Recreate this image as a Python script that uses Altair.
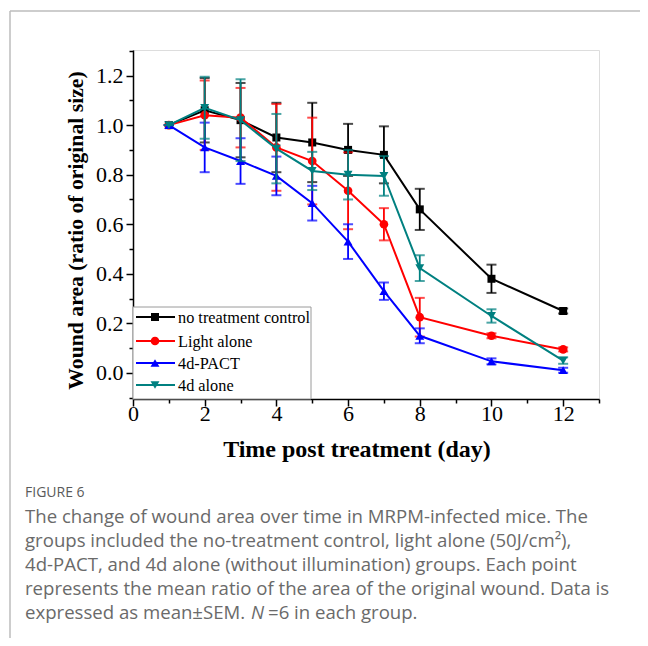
import altair as alt
import pandas as pd

# ---------------- data ----------------
days = [1, 2, 3, 4, 5, 6, 7, 8, 10, 12]
series_names = ["no treatment control", "Light alone", "4d-PACT", "4d alone"]
series_colors = ["#000000", "#ff0000", "#0000ff", "#008080"]
series_shapes = ["square", "circle", "triangle-up", "triangle-down"]
series_sizes = [64, 75, 80, 80]

control_mean = [1.00, 1.06, 1.02, 0.95, 0.93, 0.90, 0.88, 0.66, 0.38, 0.25]
control_err = [0.00, 0.13, 0.15, 0.14, 0.16, 0.105, 0.115, 0.083, 0.057, 0.010]
light_mean = [1.00, 1.04, 1.03, 0.91, 0.855, 0.735, 0.60, 0.225, 0.15, 0.095]
light_err = [0.00, 0.14, 0.12, 0.175, 0.175, 0.155, 0.065, 0.078, 0.010, 0.008]
pact_mean = [1.00, 0.91, 0.855, 0.795, 0.685, 0.53, 0.33, 0.15, 0.047, 0.011]
pact_err = [0.00, 0.10, 0.092, 0.078, 0.07, 0.07, 0.035, 0.03, 0.012, 0.010]
alone_mean = [1.00, 1.07, 1.02, 0.905, 0.815, 0.80, 0.795, 0.423, 0.23, 0.05]
alone_err = [0.00, 0.125, 0.165, 0.14, 0.077, 0.10, 0.08, 0.052, 0.027, 0.013]

all_means = [control_mean, light_mean, pact_mean, alone_mean]
all_errs = [control_err, light_err, pact_err, alone_err]

x_tick_values = [0, 1, 2, 3, 4, 5, 6, 7, 8, 9, 10, 11, 12, 13]
y_tick_values = [-0.1, 0.0, 0.1, 0.2, 0.3, 0.4, 0.5, 0.6, 0.7, 0.8, 0.9, 1.0, 1.1, 1.2, 1.3]

x_title = "Time post treatment (day)"
y_title = "Wound area (ratio of original size)"

caption_head = "FIGURE 6"
caption_lines = [
    "The change of wound area over time in MRPM-infected mice. The",
    "groups included the no-treatment control, light alone (50J/cm²),",
    "4d-PACT, and 4d alone (without illumination) groups. Each point",
    "represents the mean ratio of the area of the original wound. Data is",
]
caption_last = ["expressed as mean±SEM. ", "N", " =6 in each group."]

# ---------------- layout ----------------
W, H = 466, 349
SERIF = "Liberation Serif"
SANS = "Open Sans"
CAP_SIZE = 18.6

xscale = alt.Scale(domain=[0, 13], nice=False, zero=False)
yscale = alt.Scale(domain=[-0.105, 1.303], nice=False, zero=False)

x_axis = alt.Axis(
    orient="bottom",
    values=x_tick_values,
    labelExpr="datum.value % 2 == 0 ? datum.label : ''",
    tickSize={"condition": {"test": "datum.value % 2 == 1", "value": 4}, "value": 7},
    tickColor="black", tickWidth=1.5, domainColor="black", domainWidth=1.5,
    grid=False, labelFont=SERIF, labelFontSize=22, labelColor="black",
    labelPadding=-3, labelBaseline="top", labelFlush=False, labelOverlap=False,
    title=x_title, titleFont=SERIF, titleFontSize=24, titleFontWeight="bold",
    titleColor="black", titleX=223.5, titleY=50, titleBaseline="middle",
    titleAnchor="middle", titleAlign="center",
)
y_axis = alt.Axis(
    orient="left",
    values=y_tick_values,
    labelExpr="abs(round(datum.value*10)) % 2 == 0 ? format(datum.value, '.1f') : ''",
    tickSize={"condition": {"test": "abs(round(datum.value*10)) % 2 == 1", "value": 4}, "value": 7},
    tickColor="black", tickWidth=1.5, domainColor="black", domainWidth=1.5,
    grid=False, labelFont=SERIF, labelFontSize=22, labelColor="black",
    labelPadding=3, labelFlush=False, labelOverlap=False,
    title=y_title, titleFont=SERIF, titleFontSize=21.7, titleFontWeight="bold",
    titleColor="black", titleX=-58, titleY=180, titleBaseline="middle",
    titleAngle=270, titleAnchor="middle", titleAlign="center",
)

layers = []
for name, color, shape, size, mean, err in zip(series_names, series_colors, series_shapes,
                                                series_sizes, all_means, all_errs):
    df = pd.DataFrame({
        "day": days,
        "mean": mean,
        "lo": [m - e for m, e in zip(mean, err)],
        "hi": [m + e for m, e in zip(mean, err)],
    })
    base = alt.Chart(df)
    X = alt.X("day:Q", scale=xscale, axis=x_axis)
    stems = base.mark_rule(color=color, strokeWidth=1.8).encode(
        x=X, y=alt.Y("lo:Q", scale=yscale, axis=y_axis), y2="hi:Q")
    cap_lo = base.mark_tick(color=color, orient="horizontal", size=10, thickness=2).encode(
        x=X, y=alt.Y("lo:Q", scale=yscale, axis=y_axis))
    cap_hi = base.mark_tick(color=color, orient="horizontal", size=10, thickness=2).encode(
        x=X, y=alt.Y("hi:Q", scale=yscale, axis=y_axis))
    line = base.mark_line(color=color, strokeWidth=2).encode(
        x=X, y=alt.Y("mean:Q", scale=yscale, axis=y_axis))
    pts = base.mark_point(color=color, filled=True, opacity=1, shape=shape, size=size).encode(
        x=X, y=alt.Y("mean:Q", scale=yscale, axis=y_axis))
    layers += [stems, cap_lo, cap_hi, line, pts]

# ---------------- legend (drawn box) ----------------
legend_box = alt.Chart(pd.DataFrame({"k": [0]})).mark_rect(
    fill="white", stroke="#9a9a9a", strokeWidth=1).encode(
    x=alt.value(0), x2=alt.value(178), y=alt.value(257), y2=alt.value(349))
layers.append(legend_box)
legend_rows = [267, 291, 313, 335]
for name, color, shape, size, ly in zip(series_names, series_colors, series_shapes,
                                        series_sizes, legend_rows):
    ldf = pd.DataFrame({"name": [name]})
    lb = alt.Chart(ldf)
    layers.append(lb.mark_rule(color=color, strokeWidth=2).encode(
        x=alt.value(3), x2=alt.value(42), y=alt.value(ly)))
    layers.append(lb.mark_point(color=color, filled=True, opacity=1, shape=shape, size=size).encode(
        x=alt.value(22), y=alt.value(ly)))
    layers.append(lb.mark_text(align="left", baseline="middle", font=SERIF, fontSize=16.3,
                               color="black").encode(
        x=alt.value(45), y=alt.value(ly + 1), text="name:N"))

# ---------------- page frame and caption ----------------
frame = alt.Chart(pd.DataFrame({"k": [0]}))
layers.append(frame.mark_rule(color="#bdbdbd", strokeWidth=1.5).encode(
    x=alt.value(-123), x2=alt.value(520), y=alt.value(-39)))
layers.append(frame.mark_rule(color="#bdbdbd", strokeWidth=1.5).encode(
    x=alt.value(-123), y=alt.value(-39), y2=alt.value(600)))

layers.append(alt.Chart(pd.DataFrame({"t": [caption_head]})).mark_text(
    align="left", baseline="middle", font=SANS, fontSize=14, color="#5a5a5a").encode(
    x=alt.value(-108), y=alt.value(443), text="t:N"))
for i, line_text in enumerate(caption_lines):
    layers.append(alt.Chart(pd.DataFrame({"t": [line_text]})).mark_text(
        align="left", baseline="middle", font=SANS, fontSize=CAP_SIZE, color="#6a6a6a").encode(
        x=alt.value(-108), y=alt.value(467 + 24 * i), text="t:N"))
last_x = [-108, 118, 135]
last_style = ["normal", "italic", "normal"]
for seg, sx, st in zip(caption_last, last_x, last_style):
    layers.append(alt.Chart(pd.DataFrame({"t": [seg]})).mark_text(
        align="left", baseline="middle", font=SANS, fontSize=CAP_SIZE, color="#6a6a6a",
        fontStyle=st).encode(
        x=alt.value(sx), y=alt.value(563), text="t:N"))

chart = alt.layer(*layers).properties(
    width=W, height=H,
    autosize=alt.AutoSizeParams(type="none"),
    padding={"left": 125, "top": 42, "right": 41, "bottom": 239},
).configure_view(stroke=None).configure(background="white")

chart.save("out.html", embed_options={"renderer": "svg", "actions": False})
